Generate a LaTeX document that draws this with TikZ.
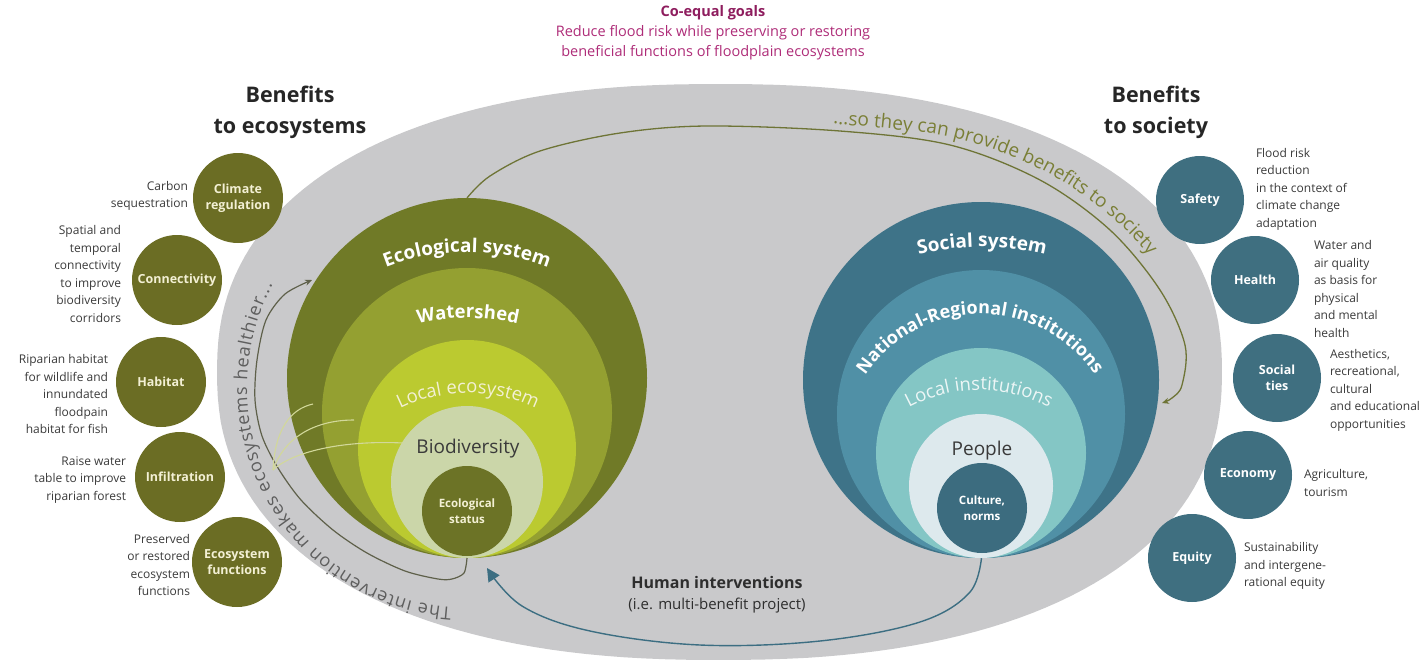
\documentclass[tikz,border=0pt]{standalone}
\usepackage{fontspec}
\setmainfont{Open Sans}
\usetikzlibrary{decorations.text,arrows.meta}
\definecolor{graybg}{HTML}{C9C9CB}
\definecolor{oliveA}{HTML}{707A27}
\definecolor{oliveB}{HTML}{94A031}
\definecolor{oliveC}{HTML}{BBCA30}
\definecolor{oliveD}{HTML}{CBD6A9}
\definecolor{oliveE}{HTML}{6C7326}
\definecolor{oliveBen}{HTML}{6B6D24}
\definecolor{tealA}{HTML}{3E7388}
\definecolor{tealB}{HTML}{5090A6}
\definecolor{tealC}{HTML}{84C6C5}
\definecolor{tealD}{HTML}{DDE9ED}
\definecolor{tealE}{HTML}{3C6C7F}
\definecolor{tealBen}{HTML}{3F6F80}
\definecolor{goalDark}{HTML}{8E1D5E}
\definecolor{goalT}{HTML}{AE2C78}
\definecolor{textgray}{HTML}{3A3A3A}
\definecolor{creamT}{HTML}{F3F0D4}
\definecolor{connOlive}{HTML}{6E7436}
\definecolor{soT}{HTML}{7A7F36}
\definecolor{intLine}{HTML}{5E604A}
\definecolor{intT}{HTML}{5E5E5E}
\definecolor{fanC}{HTML}{D2D89A}
\definecolor{arrTeal}{HTML}{3C6E82}
\pgfdeclarelayer{back}
\pgfdeclarelayer{bg}
\pgfdeclarelayer{front}
\pgfsetlayers{back,bg,main,front}
\begin{document}
\begin{tikzpicture}[x=1pt,y=-1pt,
  every node/.style={inner sep=0pt, outer sep=0pt},
  disc/.style={circle, minimum size=#1, draw=none},
  benE/.style={circle, minimum size=90pt, fill=oliveBen, text=creamT, align=center, font=\fontsize{12.5}{15.5}\selectfont\bfseries},
  benS/.style={circle, minimum size=88pt, fill=tealBen, text=white, align=center, font=\fontsize{12.5}{15.5}\selectfont\bfseries},
  descL/.style={anchor=east, align=right, text=textgray, font=\fontsize{12}{17.5}\selectfont},
  descR/.style={anchor=west, align=left, text=textgray, font=\fontsize{12}{17.5}\selectfont},
  heading/.style={align=center, text=black!85, font=\fontsize{21.5}{31}\selectfont\bfseries},
  inlabel/.style={align=center, font=\fontsize{11.5}{15.5}\selectfont\bfseries},
  topconn/.style={draw=connOlive, line width=1.3pt, -{Stealth[length=7pt,width=6pt]}},
  intconn/.style={draw=intLine, line width=1.2pt, -{Stealth[length=7pt,width=6pt]}},
  humconn/.style={draw=arrTeal, line width=1.4pt, -{Triangle[length=13pt,width=13pt]}},
  fan/.style={draw=fanC, line width=1.1pt},
]
\useasboundingbox (0,0) rectangle (1421,664);

% ---------- gray field ----------
\begin{pgfonlayer}{back}
\fill[graybg] plot[domain=0.5:360.5, samples=181, variable=\t]
  ({719.5+502.5*cos(\t)/abs(cos(\t))*abs(cos(\t))^0.87},
   {372+288*sin(\t)/abs(sin(\t))*abs(sin(\t))^0.87}) -- cycle;
\end{pgfonlayer}

% ---------- titles ----------
\node[align=center, font=\fontsize{14.5}{20}\selectfont, text=goalT] (goals) at (713,33)
  {{\bfseries\color{goalDark}Co-equal goals}\\Reduce flood risk while preserving or restoring\\beneficial functions of floodplain ecosystems};
\node[heading] (hEco) at (290,112) {Benefits\\to ecosystems};
\node[heading] (hSoc) at (1156,112) {Benefits\\to society};

% ---------- ecological system ----------
\node[disc=360pt, fill=oliveA] (ecoA) at (467,378) {};
\node[disc=290pt, fill=oliveB] (ecoB) at (467,413) {};
\node[disc=218pt, fill=oliveC] (ecoC) at (467,449) {};
\node[disc=152pt, fill=oliveD] (ecoD) at (467,482) {};
\node[disc=90pt, fill=oliveE, text=creamT, inlabel] (ecoE) at (467,511) {Ecological\\status};
\node[text=textgray, font=\fontsize{19}{19}\selectfont] (bio) at (468,449) {Biodiversity};

\path[decorate, decoration={text along path, text align=center,
  text={|\fontsize{19}{19}\selectfont\bfseries\color{white}|Ecological system}}]
  (467,473) ++(235:221) arc[start angle=235, end angle=305, radius=221];
\path[decorate, decoration={text along path, text align=center,
  text={|\fontsize{18.5}{19}\selectfont\bfseries\color{white}|Watershed}}]
  (468,538) ++(240:220) arc[start angle=240, end angle=300, radius=220];
\path[decorate, decoration={text along path, text align=center,
  text={|\fontsize{18.5}{19}\selectfont\color{creamT}|Local ecosystem}}]
  (468,546) ++(215:153) arc[start angle=215, end angle=325, radius=153];

% ---------- social system ----------
\node[disc=356pt, fill=tealA] (socA) at (981,380) {};
\node[disc=288pt, fill=tealB] (socB) at (981,414) {};
\node[disc=210pt, fill=tealC] (socC) at (981,453) {};
\node[disc=144pt, fill=tealD] (socD) at (981,486) {};
\node[disc=90pt, fill=tealE, text=white, inlabel] (socE) at (982,508) {Culture,\\norms};
\node[text=textgray, font=\fontsize{19}{19}\selectfont] (ppl) at (982,451) {People};

\path[decorate, decoration={text along path, text align=center,
  text={|\fontsize{19}{19}\selectfont\bfseries\color{white}|Social system}}]
  (982,515) ++(245:268) arc[start angle=245, end angle=295, radius=268];
\path[decorate, decoration={text along path, text align=center,
  text={|\fontsize{18}{19}\selectfont\bfseries\color{white}|National-Regional institutions}}]
  (980,452) ++(190:138) arc[start angle=190, end angle=350, radius=138];
\path[decorate, decoration={text along path, text align=center,
  text={|\fontsize{18.5}{19}\selectfont\color{white!85!tealC}|Local institutions}}]
  (979,537) ++(215:147) arc[start angle=215, end angle=325, radius=147];

% ---------- benefits to ecosystems ----------
\node[benE] (clim) at (238,198) {Climate\\regulation};
\node[benE] (conn) at (177,280) {Connectivity};
\node[benE] (hab)  at (161,382) {Habitat};
\node[benE] (inf)  at (180,477) {Infiltration};
\node[benE] (efun) at (237,562) {Ecosystem\\functions};

\node[descL] (dClim) at (188,196) {Carbon\\sequestration};
\node[descL] (dConn) at (121,274) {Spatial and\\temporal\\connectivity\\to improve\\biodiversity\\corridors};
\node[descL] (dHab)  at (108,394) {Riparian habitat\\for wildlife and\\innundated\\floodpain\\habitat for fish};
\node[descL] (dInf)  at (126,480) {Raise water\\table to improve\\riparian forest};
\node[descL] (dEfun) at (190,565) {Preserved\\or restored\\ecosystem\\functions};

% ---------- benefits to society ----------
\node[benS] (saf) at (1200,200) {Safety};
\node[benS] (hea) at (1255,280) {Health};
\node[benS] (soc) at (1277,378) {Social\\ties};
\node[benS] (eco) at (1248,475) {Economy};
\node[benS] (equ) at (1192,558) {Equity};

\node[descR] (dSaf) at (1256,189) {Flood risk\\reduction\\in the context of\\climate change\\adaptation};
\node[descR] (dHea) at (1314,289) {Water and\\air quality\\as basis for\\physical\\and mental\\health};
\node[descR] (dSoc) at (1330,390) {Aesthetics,\\recreational,\\cultural\\and educational\\opportunities};
\node[descR] (dEco) at (1304,483) {Agriculture,\\tourism};
\node[descR] (dEqu) at (1244,566) {Sustainability\\and intergene-\\rational equity};

% ---------- human interventions ----------
\node[align=center, text=textgray!80!black, font=\fontsize{15}{21}\selectfont] (hum) at (717,595)
  {{\fontsize{16}{21}\selectfont\bfseries Human interventions}\\(i.e. multi-benefit project)};

% ---------- connectors ----------
\coordinate (socTip) at (1162,403);
\coordinate (intTip) at (312,280);
\coordinate (humTip) at (487,568);
\coordinate (fanO) at (273,470);

\begin{pgfonlayer}{bg}
\draw[topconn] plot[smooth, tension=0.55] coordinates {(ecoA.north) (490,176) (540,151) (620,133) (707,126) (840,131) (950,145) (1040,180) (1110,230) (1160,290) (1185,345) (1182,385) (1172,398) (socTip)};
\path[decorate, decoration={text along path, text align=left,
  text={|\fontsize{19}{19}\selectfont\color{soT}|...so they can provide benefits to society}}]
  plot[smooth, tension=0.55] coordinates {(833,124) (950,137) (1044,171) (1116,221) (1168,281) (1192,340) (1195,380)};
\draw[humconn] plot[smooth, tension=0.6] coordinates {(socE.south) (970,592) (920,622) (820,641) (700,645) (590,631) (522,606) (humTip)};
\end{pgfonlayer}

\begin{pgfonlayer}{front}
\draw[intconn] plot[smooth, tension=0.5] coordinates {(ecoA.south) (464,573) (452,579) (438,579) (405,571) (367,553) (333,530) (301,500) (278,468) (262,436) (255,400) (257,360) (266,320) (285,294) (intTip)};
\draw[fan] (fanO) .. controls (275,430) and (290,409) .. (313,404);
\draw[fan] (fanO) .. controls (283,440) and (312,420) .. (354,420);
\draw[fan] (fanO) .. controls (292,452) and (342,440) .. (403,443);
\end{pgfonlayer}
\path[decorate, decoration={text along path, text align={fit to path},
  text={|\fontsize{18}{18}\selectfont\color{intT}|The intervention makes ecosystems healthier...}}]
  (467,388) ++(94:220) arc[start angle=94, end angle=208, radius=220];
\end{tikzpicture}
\end{document}
